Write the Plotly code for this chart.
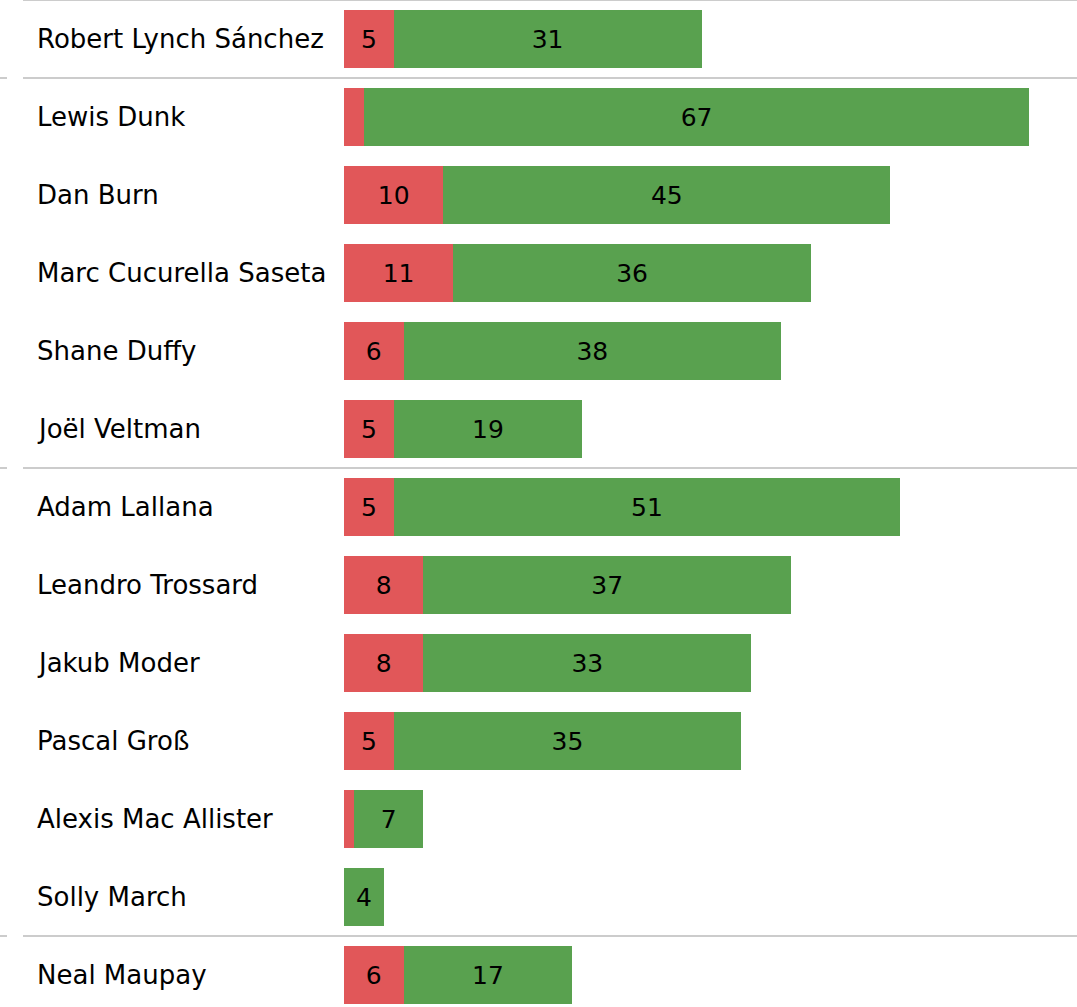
import plotly.graph_objects as go

# Players grouped by position (top to bottom)
players = [
    "Robert Lynch Sánchez",
    "Lewis Dunk", "Dan Burn", "Marc Cucurella Saseta", "Shane Duffy", "Joël Veltman",
    "Adam Lallana", "Leandro Trossard", "Jakub Moder", "Pascal Groß",
    "Alexis Mac Allister", "Solly March",
    "Neal Maupay",
]
red_values = [5, 2, 10, 11, 6, 5, 5, 8, 8, 5, 1, 0, 6]
green_values = [31, 67, 45, 36, 38, 19, 51, 37, 33, 35, 7, 4, 17]
# group boundaries (row index after which a separator line is drawn)
group_breaks = [0, 5, 11]

RED = "#e15759"
GREEN = "#59a14f"
W, H = 1077, 1007
ROW_PX = 78

def bar_text(vals):
    return [str(v) if v >= 3 else "" for v in vals]

fig = go.Figure()
fig.add_trace(go.Bar(
    y=players, x=red_values, orientation="h",
    marker=dict(color=RED, line=dict(width=0)),
    text=bar_text(red_values), textposition="inside", insidetextanchor="middle",
    textfont=dict(color="black", size=25), hoverinfo="skip",
))
fig.add_trace(go.Bar(
    y=players, x=green_values, orientation="h",
    marker=dict(color=GREEN, line=dict(width=0)),
    text=bar_text(green_values), textposition="inside", insidetextanchor="middle",
    textfont=dict(color="black", size=25), hoverinfo="skip",
))

# player names as left-aligned annotations
for i, name in enumerate(players):
    fig.add_annotation(
        x=37 / W, xref="paper", y=name, yref="y",
        text=name, showarrow=False, xanchor="left", xshift=-2,
        font=dict(size=26, color="black"),
    )

# separator lines
line_style = dict(color="#cccccc", width=2)
for yb in [-0.5] + [b + 0.5 for b in group_breaks]:
    fig.add_shape(type="line", xref="paper", yref="y",
                  x0=23 / W, x1=1, y0=yb, y1=yb, line=line_style)
    if yb > -0.5:
        fig.add_shape(type="line", xref="paper", yref="y",
                      x0=0, x1=7 / W, y0=yb, y1=yb, line=line_style)

n_rows_visible = H / ROW_PX
fig.update_layout(
    barmode="stack",
    bargap=1 - 58 / ROW_PX,
    width=W, height=H,
    margin=dict(l=0, r=0, t=0, b=0),
    plot_bgcolor="white", paper_bgcolor="white",
    showlegend=False,
    font=dict(family="DejaVu Sans", color="black"),
    xaxis=dict(domain=[344 / W, 1], range=[0, 73.8], visible=False, fixedrange=True),
    yaxis=dict(range=[-0.5 + n_rows_visible, -0.5], showticklabels=False,
               showgrid=False, zeroline=False, fixedrange=True),
)

fig.write_html("out.html", config={"displayModeBar": False},
               post_script="document.body.style.margin='0px';")
